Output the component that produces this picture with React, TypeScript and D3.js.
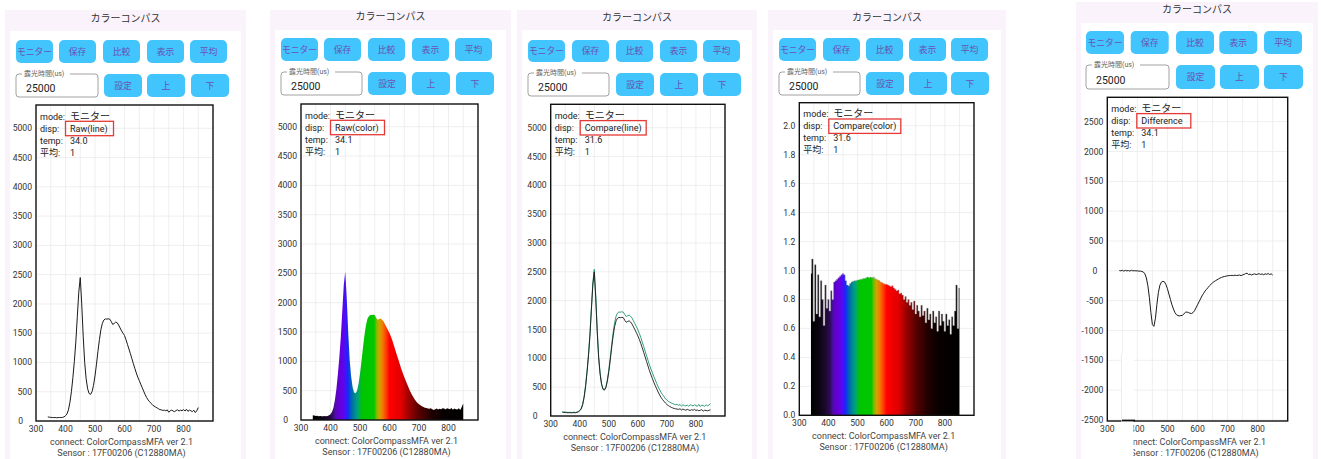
import React from 'react';
import * as d3 from 'd3';

// ---------------- DATA ----------------
const WAVELENGTHS = [
  340, 345, 350, 355, 360, 365, 370, 375, 380, 385,
  390, 395, 400, 405, 410, 415, 420, 425, 430, 435,
  440, 445, 450, 455, 460, 465, 470, 475, 480, 485,
  490, 495, 500, 505, 510, 515, 520, 525, 530, 535,
  540, 545, 550, 555, 560, 565, 570, 575, 580, 585,
  590, 595, 600, 605, 610, 615, 620, 625, 630, 635,
  640, 645, 650, 655, 660, 665, 670, 675, 680, 685,
  690, 695, 700, 705, 710, 715, 720, 725, 730, 735,
  740, 745, 750, 755, 760, 765, 770, 775, 780, 785,
  790, 795, 800, 805, 810, 815, 820, 825, 830, 835,
  840, 845, 850,
];

// Panel 1: Raw(line)
const rawLine = [
  70, 65, 62, 60, 58, 60, 56, 58, 60, 58,
  62, 70, 90, 120, 190, 320, 500, 740, 1020, 1350,
  1780, 2200, 2450, 2000, 1450, 1000, 720, 550, 470, 455,
  500, 610, 770, 970, 1190, 1390, 1560, 1670, 1725, 1745,
  1740, 1745, 1740, 1700, 1650, 1665, 1690, 1680, 1640, 1590,
  1540, 1500, 1460, 1390, 1310, 1230, 1150, 1065, 980, 900,
  820, 750, 690, 630, 570, 510, 450, 400, 360, 330,
  300, 275, 255, 240, 225, 210, 195, 190, 180, 185,
  175, 190, 150, 175, 185, 170, 160, 180, 190, 170,
  185, 175, 195, 170, 200, 165, 185, 175, 160, 185,
  145, 175, 230,
];

// Panel 2: Raw(color)
const rawColor = [
  80, 75, 70, 72, 65, 70, 62, 65, 68, 62,
  70, 80, 100, 135, 210, 340, 530, 780, 1070, 1420,
  1860, 2300, 2530, 2080, 1500, 1030, 740, 560, 470, 455,
  500, 620, 790, 1000, 1230, 1440, 1610, 1720, 1770, 1790,
  1790, 1795, 1790, 1740, 1710, 1720, 1730, 1710, 1680, 1630,
  1580, 1530, 1480, 1420, 1350, 1270, 1190, 1110, 1030, 950,
  870, 800, 735, 670, 610, 550, 490, 440, 395, 355,
  320, 290, 270, 250, 235, 220, 210, 205, 195, 190,
  200, 185, 170, 185, 195, 180, 190, 185, 200, 195,
  180, 200, 190, 185, 205, 175, 195, 185, 180, 200,
  170, 220, 280,
];

// Panel 3: Compare(line) – reference (green) and current (black)
const compareRef = [
  75, 70, 68, 66, 62, 65, 60, 63, 66, 62,
  68, 78, 98, 130, 205, 335, 525, 775, 1065, 1420,
  1870, 2310, 2545, 2090, 1510, 1040, 750, 565, 475, 460,
  505, 625, 800, 1010, 1240, 1450, 1620, 1730, 1785, 1805,
  1800, 1808, 1800, 1760, 1725, 1740, 1750, 1730, 1700, 1650,
  1600, 1550, 1495, 1435, 1365, 1285, 1205, 1125, 1045, 965,
  885, 815, 750, 685, 625, 565, 505, 455, 410, 370,
  335, 300, 275, 255, 240, 225, 215, 205, 195, 200,
  185, 200, 170, 195, 180, 175, 190, 170, 195, 185,
  175, 195, 180, 170, 200, 165, 190, 180, 170, 195,
  175, 190, 215,
];
const compareCur = [
  65, 62, 60, 58, 56, 58, 55, 57, 58, 56,
  62, 72, 92, 122, 195, 320, 505, 750, 1035, 1380,
  1830, 2270, 2500, 2050, 1470, 1010, 730, 550, 462, 448,
  490, 605, 770, 970, 1190, 1390, 1550, 1650, 1695, 1710,
  1705, 1712, 1705, 1660, 1625, 1640, 1650, 1630, 1595, 1545,
  1495, 1445, 1390, 1330, 1260, 1185, 1105, 1025, 945, 865,
  785, 715, 650, 585, 525, 470, 415, 365, 320, 285,
  255, 225, 200, 180, 165, 150, 140, 130, 125, 120,
  115, 125, 105, 120, 110, 100, 115, 105, 95, 110,
  100, 115, 95, 105, 90, 100, 110, 85, 100, 95,
  90, 100, 105,
];

// Panel 4: Compare(color) – ratio
const compareRatio = [
  0.98, 1.08, 0.65, 1.04, 0.70, 0.97, 0.68, 0.93, 0.80, 0.62,
  0.90, 0.74, 0.80, 0.72, 0.86, 0.80, 0.92, 0.93, 0.94, 0.95,
  0.96, 0.97, 0.98, 0.97, 0.93, 0.90, 0.895, 0.91, 0.92, 0.925,
  0.93, 0.93, 0.935, 0.935, 0.94, 0.94, 0.945, 0.945, 0.95, 0.955,
  0.95, 0.955, 0.95, 0.955, 0.945, 0.94, 0.935, 0.93, 0.92, 0.915,
  0.91, 0.905, 0.905, 0.90, 0.895, 0.89, 0.895, 0.88, 0.87, 0.86,
  0.865, 0.84, 0.845, 0.83, 0.80, 0.82, 0.78, 0.80, 0.76, 0.78,
  0.73, 0.79, 0.70, 0.76, 0.72, 0.68, 0.76, 0.69, 0.72, 0.64,
  0.74, 0.66, 0.70, 0.60, 0.72, 0.64, 0.68, 0.58, 0.72, 0.62,
  0.70, 0.65, 0.58, 0.70, 0.62, 0.66, 0.56, 0.68, 0.62, 0.72,
  0.90, 0.60, 0.88,
];

// Panel 5: Difference
const difference = [
  5, 0, 10, -5, 8, 0, 5, -5, 10, 0,
  3, 0, 0, -5, -5, -10, -20, -50, -120, -250,
  -450, -700, -900, -930, -800, -560, -360, -240, -190, -175,
  -185, -230, -300, -390, -480, -570, -640, -700, -735, -750,
  -755, -750, -745, -720, -695, -690, -700, -710, -715, -700,
  -670, -620, -570, -520, -470, -420, -380, -340, -310, -280,
  -250, -225, -200, -180, -165, -150, -135, -120, -110, -100,
  -95, -88, -82, -80, -78, -75, -80, -72, -78, -75,
  -70, -80, -68, -60, -45, -40, -62, -55, -70, -58,
  -50, -62, -55, -48, -60, -52, -65, -50, -58, -45,
  -62, -50, -70,
];

// Tick labels
const X_TICKS = [300, 400, 500, 600, 700, 800];
const X_GRID = [350, 400, 450, 500, 550, 600, 650, 700, 750, 800, 850];
const COUNT_TICKS = [0, 500, 1000, 1500, 2000, 2500, 3000, 3500, 4000, 4500, 5000];
const RATIO_TICKS = [0, 0.2, 0.4, 0.6, 0.8, 1.0, 1.2, 1.4, 1.6, 1.8, 2.0];
const DIFF_TICKS = [-2500, -2000, -1500, -1000, -500, 0, 500, 1000, 1500, 2000, 2500];

const TOP_BUTTONS = ['モニター', '保存', '比較', '表示', '平均'];
const ROW2_BUTTONS = ['設定', '上', '下'];

// wavelength -> display colour stops
const COLOR_STOPS: [number, string][] = [
  [340, '#000000'], [370, '#0c0512'], [390, '#1c0930'], [405, '#2e0b58'],
  [415, '#4a0fa0'], [425, '#6000d0'], [440, '#6400e8'], [450, '#4810f4'],
  [458, '#1c24ff'], [466, '#0050d0'], [476, '#00789c'], [488, '#009a88'],
  [498, '#00b050'], [506, '#00c400'], [548, '#00c800'], [556, '#80b800'],
  [565, '#c8a800'], [575, '#f08000'], [588, '#ff4000'], [600, '#ff0000'],
  [640, '#e00000'], [665, '#a00000'], [700, '#580000'], [740, '#220000'],
  [780, '#080000'], [850, '#000000'],
];

// ---------------- LAYOUT ----------------
const FONT = "Roboto, 'Noto Sans CJK JP', 'Noto Sans', sans-serif";
const CARD = '#fbf3fc';
const BTN = '#42c4fc';
const BTN_TEXT = '#6a52b4';

type Box = { l: number; t: number; r: number; b: number };
type PanelCfg = {
  key: string; kind: 'line' | 'color' | 'compare' | 'ratio' | 'diff';
  disp: string; temp: string; dispW: number;
  cardX: number; cardY: number; cardR: number; innerY: number; titleY: number;
  btnY: number; btnH: number; btnW: number; btnXs: number[];
  row2Y: number; row2H: number; expX: number; expW: number; row2Xs: number[];
  box: Box; yRef: [number, number, number, number]; ticks: number[]; zeroOff: number;
};

const PANELS: PanelCfg[] = [
  {
    key: 'p1', kind: 'line', disp: 'Raw(line)', temp: '34.0', dispW: 48,
    cardX: 5, cardY: 10, cardR: 246, innerY: 31, titleY: 22,
    btnY: 40, btnH: 23, btnW: 37, btnXs: [16, 59, 103, 147, 190],
    row2Y: 74, row2H: 23, expX: 16, expW: 82, row2Xs: [104, 147, 191],
    box: { l: 36, t: 105, r: 213, b: 421 }, yRef: [0, 421, 5000, 128.3], ticks: COUNT_TICKS, zeroOff: 13,
  },
  {
    key: 'p2', kind: 'color', disp: 'Raw(color)', temp: '34.1', dispW: 54,
    cardX: 270, cardY: 10, cardR: 511, innerY: 30, titleY: 20,
    btnY: 38, btnH: 23, btnW: 37, btnXs: [281, 324, 368, 412, 455],
    row2Y: 72, row2H: 23, expX: 281, expW: 81, row2Xs: [368, 412, 456],
    box: { l: 301, t: 104, r: 478, b: 420 }, yRef: [0, 420, 5000, 126.7], ticks: COUNT_TICKS, zeroOff: 13,
  },
  {
    key: 'p3', kind: 'compare', disp: 'Compare(line)', temp: '31.6', dispW: 66,
    cardX: 517, cardY: 10, cardR: 757, innerY: 30, titleY: 21,
    btnY: 40, btnH: 22, btnW: 37, btnXs: [528, 572, 616, 660, 703],
    row2Y: 73, row2H: 23, expX: 528, expW: 81, row2Xs: [616, 660, 703],
    box: { l: 550.7, t: 104.3, r: 725, b: 416 }, yRef: [0, 416, 5000, 127.7], ticks: COUNT_TICKS, zeroOff: 13,
  },
  {
    key: 'p4', kind: 'ratio', disp: 'Compare(color)', temp: '31.6', dispW: 72,
    cardX: 768, cardY: 10, cardR: 1006, innerY: 30, titleY: 21,
    btnY: 38, btnH: 23, btnW: 37, btnXs: [779, 823, 866, 909, 951],
    row2Y: 72, row2H: 23, expX: 779, expW: 81, row2Xs: [866, 909, 951],
    box: { l: 799.3, t: 102.7, r: 974, b: 415.3 }, yRef: [0, 415.3, 2, 125.7], ticks: RATIO_TICKS, zeroOff: 4,
  },
  {
    key: 'p5', kind: 'diff', disp: 'Difference', temp: '34.1', dispW: 54,
    cardX: 1076, cardY: 2, cardR: 1318, innerY: 23, titleY: 13,
    btnY: 31, btnH: 23, btnW: 38, btnXs: [1086, 1130.7, 1176, 1219.3, 1264],
    row2Y: 65, row2H: 24, expX: 1086, expW: 83, row2Xs: [1176, 1220, 1264],
    box: { l: 1107.3, t: 97.3, r: 1287.7, b: 421 }, yRef: [-2500, 420, 2500, 121.7], ticks: DIFF_TICKS, zeroOff: 10,
  },
];

function Card({ p }: { p: PanelCfg }) {
  const cx = (p.cardX + p.cardR) / 2;
  return (
    <g>
      <rect x={p.cardX} y={p.cardY} width={p.cardR - p.cardX} height={459 - p.cardY + 5} fill={CARD} />
      <rect x={p.cardX + 5} y={p.innerY} width={p.cardR - p.cardX - 10} height={459 - p.innerY + 5} fill="#ffffff" />
      <text x={cx} y={p.titleY} textAnchor="middle" fontSize={10} fill="#333" fontFamily={FONT}>カラーコンパス</text>
      {TOP_BUTTONS.map((label, i) => (
        <g key={label}>
          <rect x={p.btnXs[i]} y={p.btnY} width={p.btnW} height={p.btnH} rx={5} fill={BTN} />
          <text x={p.btnXs[i] + p.btnW / 2} y={p.btnY + p.btnH / 2 + 3.2} textAnchor="middle" fontSize={8.8}
            fill={BTN_TEXT} fontFamily={FONT}>{label}</text>
        </g>
      ))}
      <rect x={p.expX} y={p.row2Y} width={p.expW} height={p.row2H} rx={3} fill="#fff" stroke="#8a8a8a" strokeWidth={0.8} />
      <rect x={p.expX + 6} y={p.row2Y - 3} width={48} height={6} fill="#fff" />
      <text x={p.expX + 8} y={p.row2Y + 2.3} fontSize={7} fill="#666" fontFamily={FONT}>露光時間(us)</text>
      <text x={p.expX + 10} y={p.row2Y + p.row2H - 5} fontSize={10.5} fill="#222" fontFamily={FONT}>25000</text>
      {ROW2_BUTTONS.map((label, i) => (
        <g key={label}>
          <rect x={p.row2Xs[i]} y={p.row2Y} width={p.btnW + 1} height={p.row2H} rx={5} fill={BTN} />
          <text x={p.row2Xs[i] + (p.btnW + 1) / 2} y={p.row2Y + p.row2H / 2 + 3.2} textAnchor="middle" fontSize={8.8}
            fill={BTN_TEXT} fontFamily={FONT}>{label}</text>
        </g>
      ))}
    </g>
  );
}

function Chart({ p }: { p: PanelCfg }) {
  const { l, t, r, b } = p.box;
  const x = d3.scaleLinear().domain([300, 900]).range([l, r]);
  const y = d3.scaleLinear().domain([p.yRef[0], p.yRef[2]]).range([p.yRef[1], p.yRef[3]]);
  const clipId = `clip-${p.key}`;
  const gradId = `grad-${p.key}`;
  const line = d3.line<number>().x((_, i) => x(WAVELENGTHS[i])).y((d) => y(d));
  const area = d3.area<number>().x((_, i) => x(WAVELENGTHS[i])).y0(y(0)).y1((d) => y(d));
  const stepArea = d3.area<number>().x((_, i) => x(WAVELENGTHS[i])).y0(y(0)).y1((d) => y(d)).curve(d3.curveStep);
  const stepLine = d3.line<number>().x((_, i) => x(WAVELENGTHS[i])).y((d) => y(d)).curve(d3.curveStep);
  const fmt = p.kind === 'ratio' ? d3.format('.1f') : (v: number) => String(v);
  const cx = (l + r) / 2 - 3;
  const rows: [string, string][] = [['mode:', 'モニター'], ['disp:', p.disp], ['temp:', p.temp], ['平均:', '1']];

  return (
    <g fontFamily={FONT}>
      <defs>
        <clipPath id={clipId}><rect x={l} y={t} width={r - l} height={b - t} /></clipPath>
        <linearGradient id={gradId} gradientUnits="userSpaceOnUse" x1={x(300)} x2={x(900)} y1={0} y2={0}>
          {COLOR_STOPS.map(([wl, c]) => (
            <stop key={wl} offset={(wl - 300) / 600} stopColor={c} />
          ))}
        </linearGradient>
      </defs>
      <rect x={l} y={t} width={r - l} height={b - t} fill="#fff" />
      {/* grid */}
      {X_GRID.map((v) => (
        <line key={`gx${v}`} x1={x(v)} x2={x(v)} y1={t} y2={b} stroke="#ebebeb" strokeWidth={0.8} />
      ))}
      {p.ticks.map((v) => (
        <line key={`gy${v}`} x1={l} x2={r} y1={y(v)} y2={y(v)} stroke="#ebebeb" strokeWidth={0.8} />
      ))}
      {/* data */}
      <g clipPath={`url(#${clipId})`}>
        {p.kind === 'line' && (
          <path d={line(rawLine) || ''} fill="none" stroke="#1a1a1a" strokeWidth={1} />
        )}
        {p.kind === 'color' && (
          <path d={area(rawColor) || ''} fill={`url(#${gradId})`} />
        )}
        {p.kind === 'compare' && (
          <g>
            <path d={line(compareRef) || ''} fill="none" stroke="#2f9e7c" strokeWidth={1} />
            <path d={line(compareCur) || ''} fill="none" stroke="#1a1a1a" strokeWidth={0.9} />
          </g>
        )}
        {p.kind === 'ratio' && (
          <g>
            <path d={stepArea(compareRatio) || ''} fill={`url(#${gradId})`} />
            <path d={stepLine(compareRatio) || ''} fill="none" stroke="#a0a0a0" strokeWidth={0.4} />
          </g>
        )}
        {p.kind === 'diff' && (
          <path d={line(difference) || ''} fill="none" stroke="#1a1a1a" strokeWidth={1} />
        )}
      </g>
      {/* frame */}
      <rect x={l} y={t} width={r - l} height={b - t} fill="none" stroke="#111" strokeWidth={1.4} />
      {/* y ticks */}
      {p.ticks.map((v) => (
        <text key={`ty${v}`} x={v === 0 && p.kind !== 'ratio' ? l - p.zeroOff : l - 4} y={y(v) + 3} textAnchor="end"
          fontSize={8.6} fill="#333">{fmt(v)}</text>
      ))}
      {/* x ticks */}
      {X_TICKS.map((v) => (
        <text key={`tx${v}`} x={x(v)} y={b + 10.5} textAnchor="middle" fontSize={8.6} fill="#333">{v}</text>
      ))}
      {/* annotations */}
      {rows.map(([k, v], i) => (
        <g key={k}>
          <text x={l + 4} y={t + 14.5 + 12 * i} fontSize={9} fill="#222">{k}</text>
          <text x={l + 34} y={t + 14.5 + 12 * i} fontSize={i === 0 ? 10 : 9} fill="#222">{v}</text>
        </g>
      ))}
      <rect x={l + 29.5} y={t + 16.3} width={p.dispW} height={14.4} fill="none" stroke="#e53935" strokeWidth={1.3} />
      {/* footer */}
      <text x={cx} y={b + 24} textAnchor="middle" fontSize={9} fill="#444">connect: ColorCompassMFA ver 2.1</text>
      <text x={cx} y={b + 35} textAnchor="middle" fontSize={9} fill="#444">Sensor : 17F00206 (C12880MA)</text>
    </g>
  );
}

export default function App() {
  return (
    <svg width={1321} height={459} viewBox="0 0 1321 459"
      style={{ position: 'absolute', left: 0, top: 0, background: '#fff' }}>
      {PANELS.map((p) => (
        <g key={p.key}>
          <Card p={p} />
          <Chart p={p} />
        </g>
      ))}
      {/* screenshot artefact in the last panel */}
      <rect x={1121.5} y={354} width={12} height={110} fill="#ffffff" />
      <line x1={1121.5} x2={1121.5} y1={354} y2={420} stroke="#f3e3ec" strokeWidth={0.8} />
      <line x1={1122} x2={1135} y1={420.5} y2={420.5} stroke="#111" strokeWidth={1.8} />
    </svg>
  );
}
